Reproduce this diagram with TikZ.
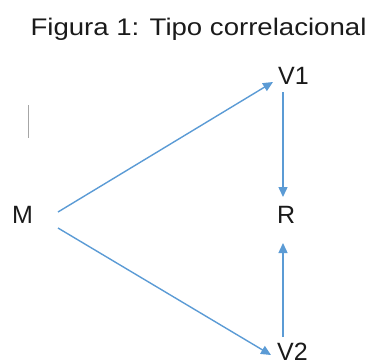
\documentclass[tikz,border=0pt]{standalone}
\usepackage{fontspec}
\setmainfont{Liberation Sans}
\usetikzlibrary{arrows.meta}
\definecolor{arrblue}{HTML}{5B9BD5}
\definecolor{txtgray}{HTML}{1A1A1A}
\begin{document}
\begin{tikzpicture}[x=1pt,y=-1pt,
  lbl/.style={inner sep=0pt,anchor=base west,text=txtgray,font=\fontsize{25}{30}\selectfont},
  conn/.style={draw=arrblue,line width=1.4pt,-{Triangle[length=10pt,width=9pt]}}]
\useasboundingbox (0,0) rectangle (373,362);
\node[inner sep=0pt,anchor=base,text=txtgray,font=\fontsize{24}{28}\selectfont,xscale=1.15] (title) at (198.5,35.7) {Figura 1: Tipo correlacional};
\node[lbl] (V1) at (278,84) {V1};
\node[lbl] (M) at (12,223) {M};
\node[lbl] (R) at (277,223) {R};
\node[lbl] (V2) at (277,360) {V2};
\coordinate (m1) at (58,212);
\coordinate (v1in) at (273,82);
\coordinate (m2) at (58,228);
\coordinate (v2in) at (271,355);
\coordinate (v1out) at (283,92);
\coordinate (rtop) at (283,197);
\coordinate (v2out) at (283,337);
\coordinate (rbot) at (283,243);
\coordinate (bar1) at (28.5,105);
\coordinate (bar2) at (28.5,138);
\draw[conn] (m1) -- (v1in);
\draw[conn] (m2) -- (v2in);
\draw[conn] (v1out) -- (rtop);
\draw[conn] (v2out) -- (rbot);
\draw[gray!70,line width=1.5pt] (bar1) -- (bar2);
\end{tikzpicture}
\end{document}
